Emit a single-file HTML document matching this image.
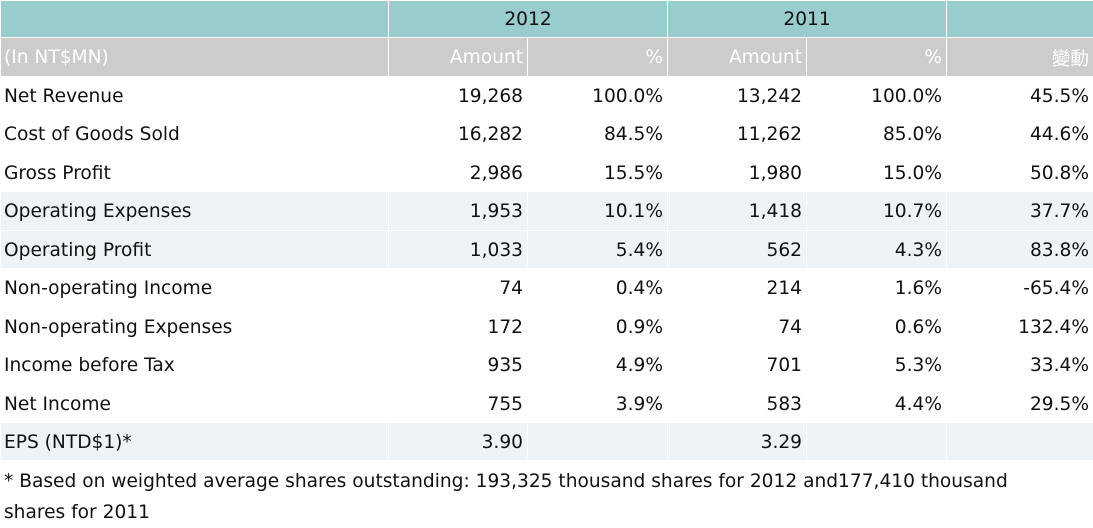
<!DOCTYPE html>
<html><head><meta charset="utf-8"><style>
body{margin:0;width:1093px;height:528px;background:#fff;font-family:"DejaVu Sans","Liberation Sans","Noto Sans CJK TC",sans-serif;font-size:18.6px;color:#111;overflow:hidden}
table{border-collapse:collapse;table-layout:fixed;width:1093px;position:absolute;left:0;top:0}
td{padding:1px 4px 0 4px;text-align:right;white-space:nowrap;border:1px solid #fff;overflow:hidden}
td:first-child{text-align:left;padding-left:3px}
tr.h td{background:#99cccc;text-align:center;height:35px}
tr.s td{background:#cccccc;color:#fff;height:37px}
tr.g td{background:#eef3f7}
.n{position:absolute;left:4px;top:466px;line-height:31px;width:1040px}
</style></head><body>
<table>
<colgroup><col style="width:388px"><col style="width:139px"><col style="width:140px"><col style="width:139px"><col style="width:140px"><col style="width:147px"></colgroup>
<tr class="h"><td></td><td colspan="2">2012</td><td colspan="2">2011</td><td></td></tr>
<tr class="s"><td>(In NT$MN)</td><td>Amount</td><td>%</td><td>Amount</td><td>%</td><td>變動</td></tr>
<tr style="height:38px"><td>Net Revenue</td><td>19,268</td><td>100.0%</td><td>13,242</td><td>100.0%</td><td>45.5%</td></tr>
<tr style="height:39px"><td>Cost of Goods Sold</td><td>16,282</td><td>84.5%</td><td>11,262</td><td>85.0%</td><td>44.6%</td></tr>
<tr style="height:38px"><td>Gross Profit</td><td>2,986</td><td>15.5%</td><td>1,980</td><td>15.0%</td><td>50.8%</td></tr>
<tr class="g" style="height:39px"><td>Operating Expenses</td><td>1,953</td><td>10.1%</td><td>1,418</td><td>10.7%</td><td>37.7%</td></tr>
<tr class="g" style="height:38px"><td>Operating Profit</td><td>1,033</td><td>5.4%</td><td>562</td><td>4.3%</td><td>83.8%</td></tr>
<tr style="height:39px"><td>Non-operating Income</td><td>74</td><td>0.4%</td><td>214</td><td>1.6%</td><td>-65.4%</td></tr>
<tr style="height:38px"><td>Non-operating Expenses</td><td>172</td><td>0.9%</td><td>74</td><td>0.6%</td><td>132.4%</td></tr>
<tr style="height:39px"><td>Income before Tax</td><td>935</td><td>4.9%</td><td>701</td><td>5.3%</td><td>33.4%</td></tr>
<tr style="height:38px"><td>Net Income</td><td>755</td><td>3.9%</td><td>583</td><td>4.4%</td><td>29.5%</td></tr>
<tr class="g" style="height:38px"><td>EPS (NTD$1)*</td><td>3.90</td><td></td><td>3.29</td><td></td><td></td></tr>
</table>
<div class="n">* Based on weighted average shares outstanding: 193,325 thousand shares for 2012 and177,410 thousand shares for 2011</div>
</body></html>
